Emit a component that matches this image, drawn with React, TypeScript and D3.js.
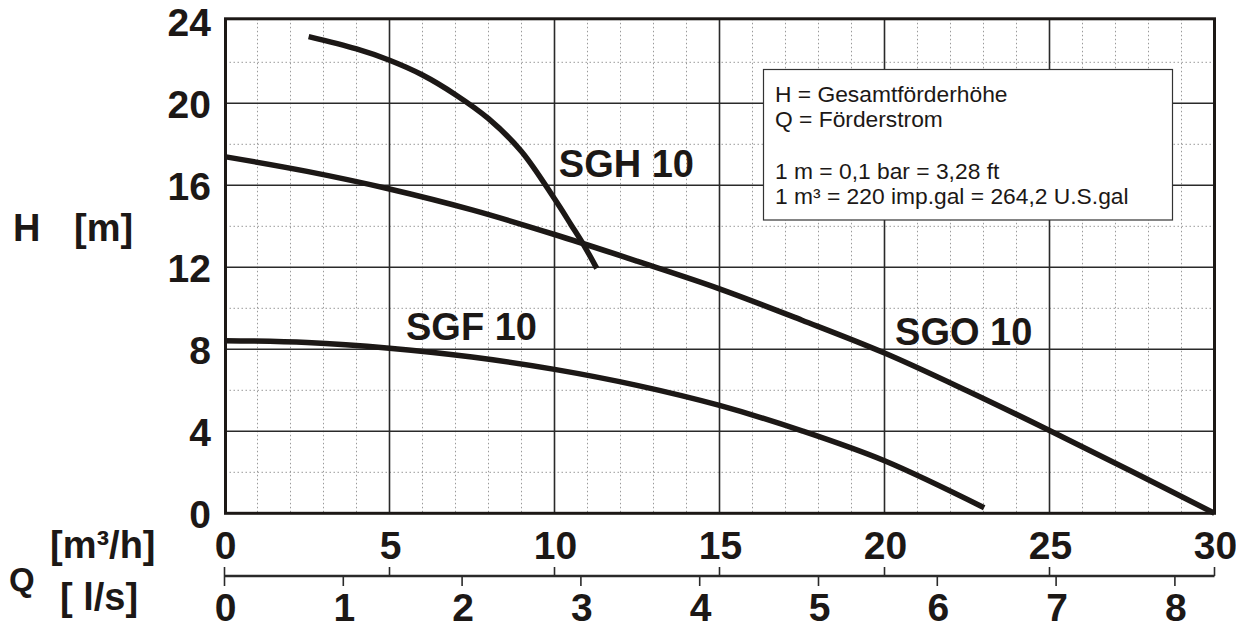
import React from "react";
import * as d3 from "d3";

const W = 1236;
const H = 629;

const hTicks = [0, 4, 8, 12, 16, 20, 24];
const hMinor = [2, 6, 10, 14, 18, 22];
const qTicks = [0, 5, 10, 15, 20, 25, 30];
const qMinor = d3.range(1, 30).filter((v) => v % 5 !== 0);
const lsTicks = [0, 1, 2, 3, 4, 5, 6, 7, 8];

const sghQ = [2.55, 4, 5, 6, 7, 8, 9, 10, 10.5, 10.9, 11.28];
const sghH = [23.25, 22.65, 22.1, 21.38, 20.42, 19.25, 17.65, 15.34, 14.08, 13.05, 11.95];

const sgoQ = [0, 2.5, 5, 7.5, 10, 12.5, 15, 17.5, 20, 22.5, 25, 27.5, 30];
const sgoH = [17.4, 16.68, 15.82, 14.8, 13.6, 12.3, 10.95, 9.42, 7.82, 5.98, 4.04, 2.04, 0];

const sgfQ = [0, 2.5, 5, 7.5, 10, 12.5, 15, 17.5, 20, 23.02];
const sgfH = [8.42, 8.33, 8.05, 7.62, 7.02, 6.24, 5.26, 4.02, 2.56, 0.27];

const legendLines = [
  "H = Gesamtförderhöhe",
  "Q = Förderstrom",
  "",
  "1 m = 0,1 bar = 3,28 ft",
  "1 m³ = 220 imp.gal = 264,2 U.S.gal",
];

const curveLabels = [
  { text: "SGH 10", q: 10.13, h: 16.4 },
  { text: "SGO 10", q: 20.32, h: 8.21 },
  { text: "SGF 10", q: 5.5, h: 8.45 },
];

const FONT = "'Liberation Sans', Arial, Helvetica, sans-serif";
const INK = "#1c1816";

export default function App() {
  const x = d3.scaleLinear().domain([0, 30]).range([224.5, 1214.5]);
  const y = d3.scaleLinear().domain([0, 24]).range([513.3, 21.3]);
  const xls = (v: number) => x(v * 3.6);

  const line = d3
    .line<[number, number]>()
    .x((d) => x(d[0]))
    .y((d) => y(d[1]))
    .curve(d3.curveCatmullRom.alpha(0.5));

  const series = [
    { q: sghQ, h: sghH },
    { q: sgoQ, h: sgoH },
    { q: sgfQ, h: sgfH },
  ];

  const top = y(24) - 2.5;
  const bottom = y(0);
  const left = x(0) + 1;
  const right = x(30);
  const axisY = 576;

  return (
    <svg
      width={W}
      height={H}
      style={{ position: "absolute", left: 0, top: 0, background: "#fff" }}
      fontFamily={FONT}
    >
      {/* minor grid */}
      {qMinor.map((v) => (
        <line
          key={"qm" + v}
          x1={x(v)}
          x2={x(v)}
          y1={top}
          y2={bottom}
          stroke="#9a9a9a"
          strokeWidth={1}
          strokeDasharray="1.5,2.5"
        />
      ))}
      {hMinor.map((v) => (
        <line
          key={"hm" + v}
          x1={left}
          x2={right}
          y1={y(v)}
          y2={y(v)}
          stroke="#9a9a9a"
          strokeWidth={1}
          strokeDasharray="1.5,2.5"
        />
      ))}
      {/* major grid */}
      {qTicks.slice(1, -1).map((v) => (
        <line key={"qM" + v} x1={x(v)} x2={x(v)} y1={top} y2={bottom} stroke="#2a2a2a" strokeWidth={1.6} />
      ))}
      {hTicks.slice(1, -1).map((v) => (
        <line key={"hM" + v} x1={left} x2={right} y1={y(v)} y2={y(v)} stroke="#2a2a2a" strokeWidth={1.6} />
      ))}

      {/* legend box */}
      <rect x={763.5} y={69.5} width={409} height={150.5} fill="#fff" stroke="#333" strokeWidth={1.2} />
      {legendLines.map((t, i) => (
        <text key={"lg" + i} x={775} y={101.7 + i * 25.6} fontSize={22.8} fill={INK}>
          {t}
        </text>
      ))}

      {/* frame */}
      <rect
        x={left}
        y={top}
        width={right - left}
        height={bottom - top}
        fill="none"
        stroke={INK}
        strokeWidth={3}
      />

      {/* curves */}
      {series.map((s, i) => (
        <path
          key={"c" + i}
          d={line(s.q.map((q, j) => [q, s.h[j]] as [number, number])) || ""}
          fill="none"
          stroke={INK}
          strokeWidth={5.5}
        />
      ))}

      {curveLabels.map((c) => (
        <text key={c.text} x={x(c.q)} y={y(c.h)} fontSize={38} fontWeight="bold" fill={INK}>
          {c.text}
        </text>
      ))}

      {/* y tick labels */}
      {hTicks.map((v) => (
        <text key={"yl" + v} x={211} y={y(v) + 15} fontSize={39} fontWeight="bold" textAnchor="end" fill={INK}>
          {v}
        </text>
      ))}
      <text x={13} y={240.7} fontSize={38} fontWeight="bold" fill={INK}>
        H
      </text>
      <text x={74} y={240.7} fontSize={38} fontWeight="bold" fill={INK}>
        [m]
      </text>

      {/* x axis labels m3/h */}
      {qTicks.map((v) => (
        <text key={"xl" + v} x={x(v) + 1} y={559} fontSize={39} fontWeight="bold" textAnchor="middle" fill={INK}>
          {v}
        </text>
      ))}
      {/* secondary axis line */}
      <line x1={x(0)} x2={x(30)} y1={axisY} y2={axisY} stroke="#2a2a2a" strokeWidth={2.5} />
      {qTicks.map((v) => (
        <line key={"xt" + v} x1={x(v)} x2={x(v)} y1={axisY - 9} y2={axisY} stroke="#2a2a2a" strokeWidth={1.6} />
      ))}
      {lsTicks.map((v) => (
        <line key={"lt" + v} x1={xls(v)} x2={xls(v)} y1={axisY} y2={axisY + 10} stroke="#2a2a2a" strokeWidth={1.6} />
      ))}
      {lsTicks.map((v) => (
        <text key={"ll" + v} x={xls(v) + 1} y={621} fontSize={39} fontWeight="bold" textAnchor="middle" fill={INK}>
          {v}
        </text>
      ))}

      <text x={9} y={591} fontSize={33} fontWeight="bold" fill={INK}>
        Q
      </text>
      <text x={50} y={558} fontSize={38} fontWeight="bold" fill={INK}>
        [m³/h]
      </text>
      <text x={60} y={610} fontSize={38} fontWeight="bold" fill={INK}>
        [ l/s]
      </text>
    </svg>
  );
}
